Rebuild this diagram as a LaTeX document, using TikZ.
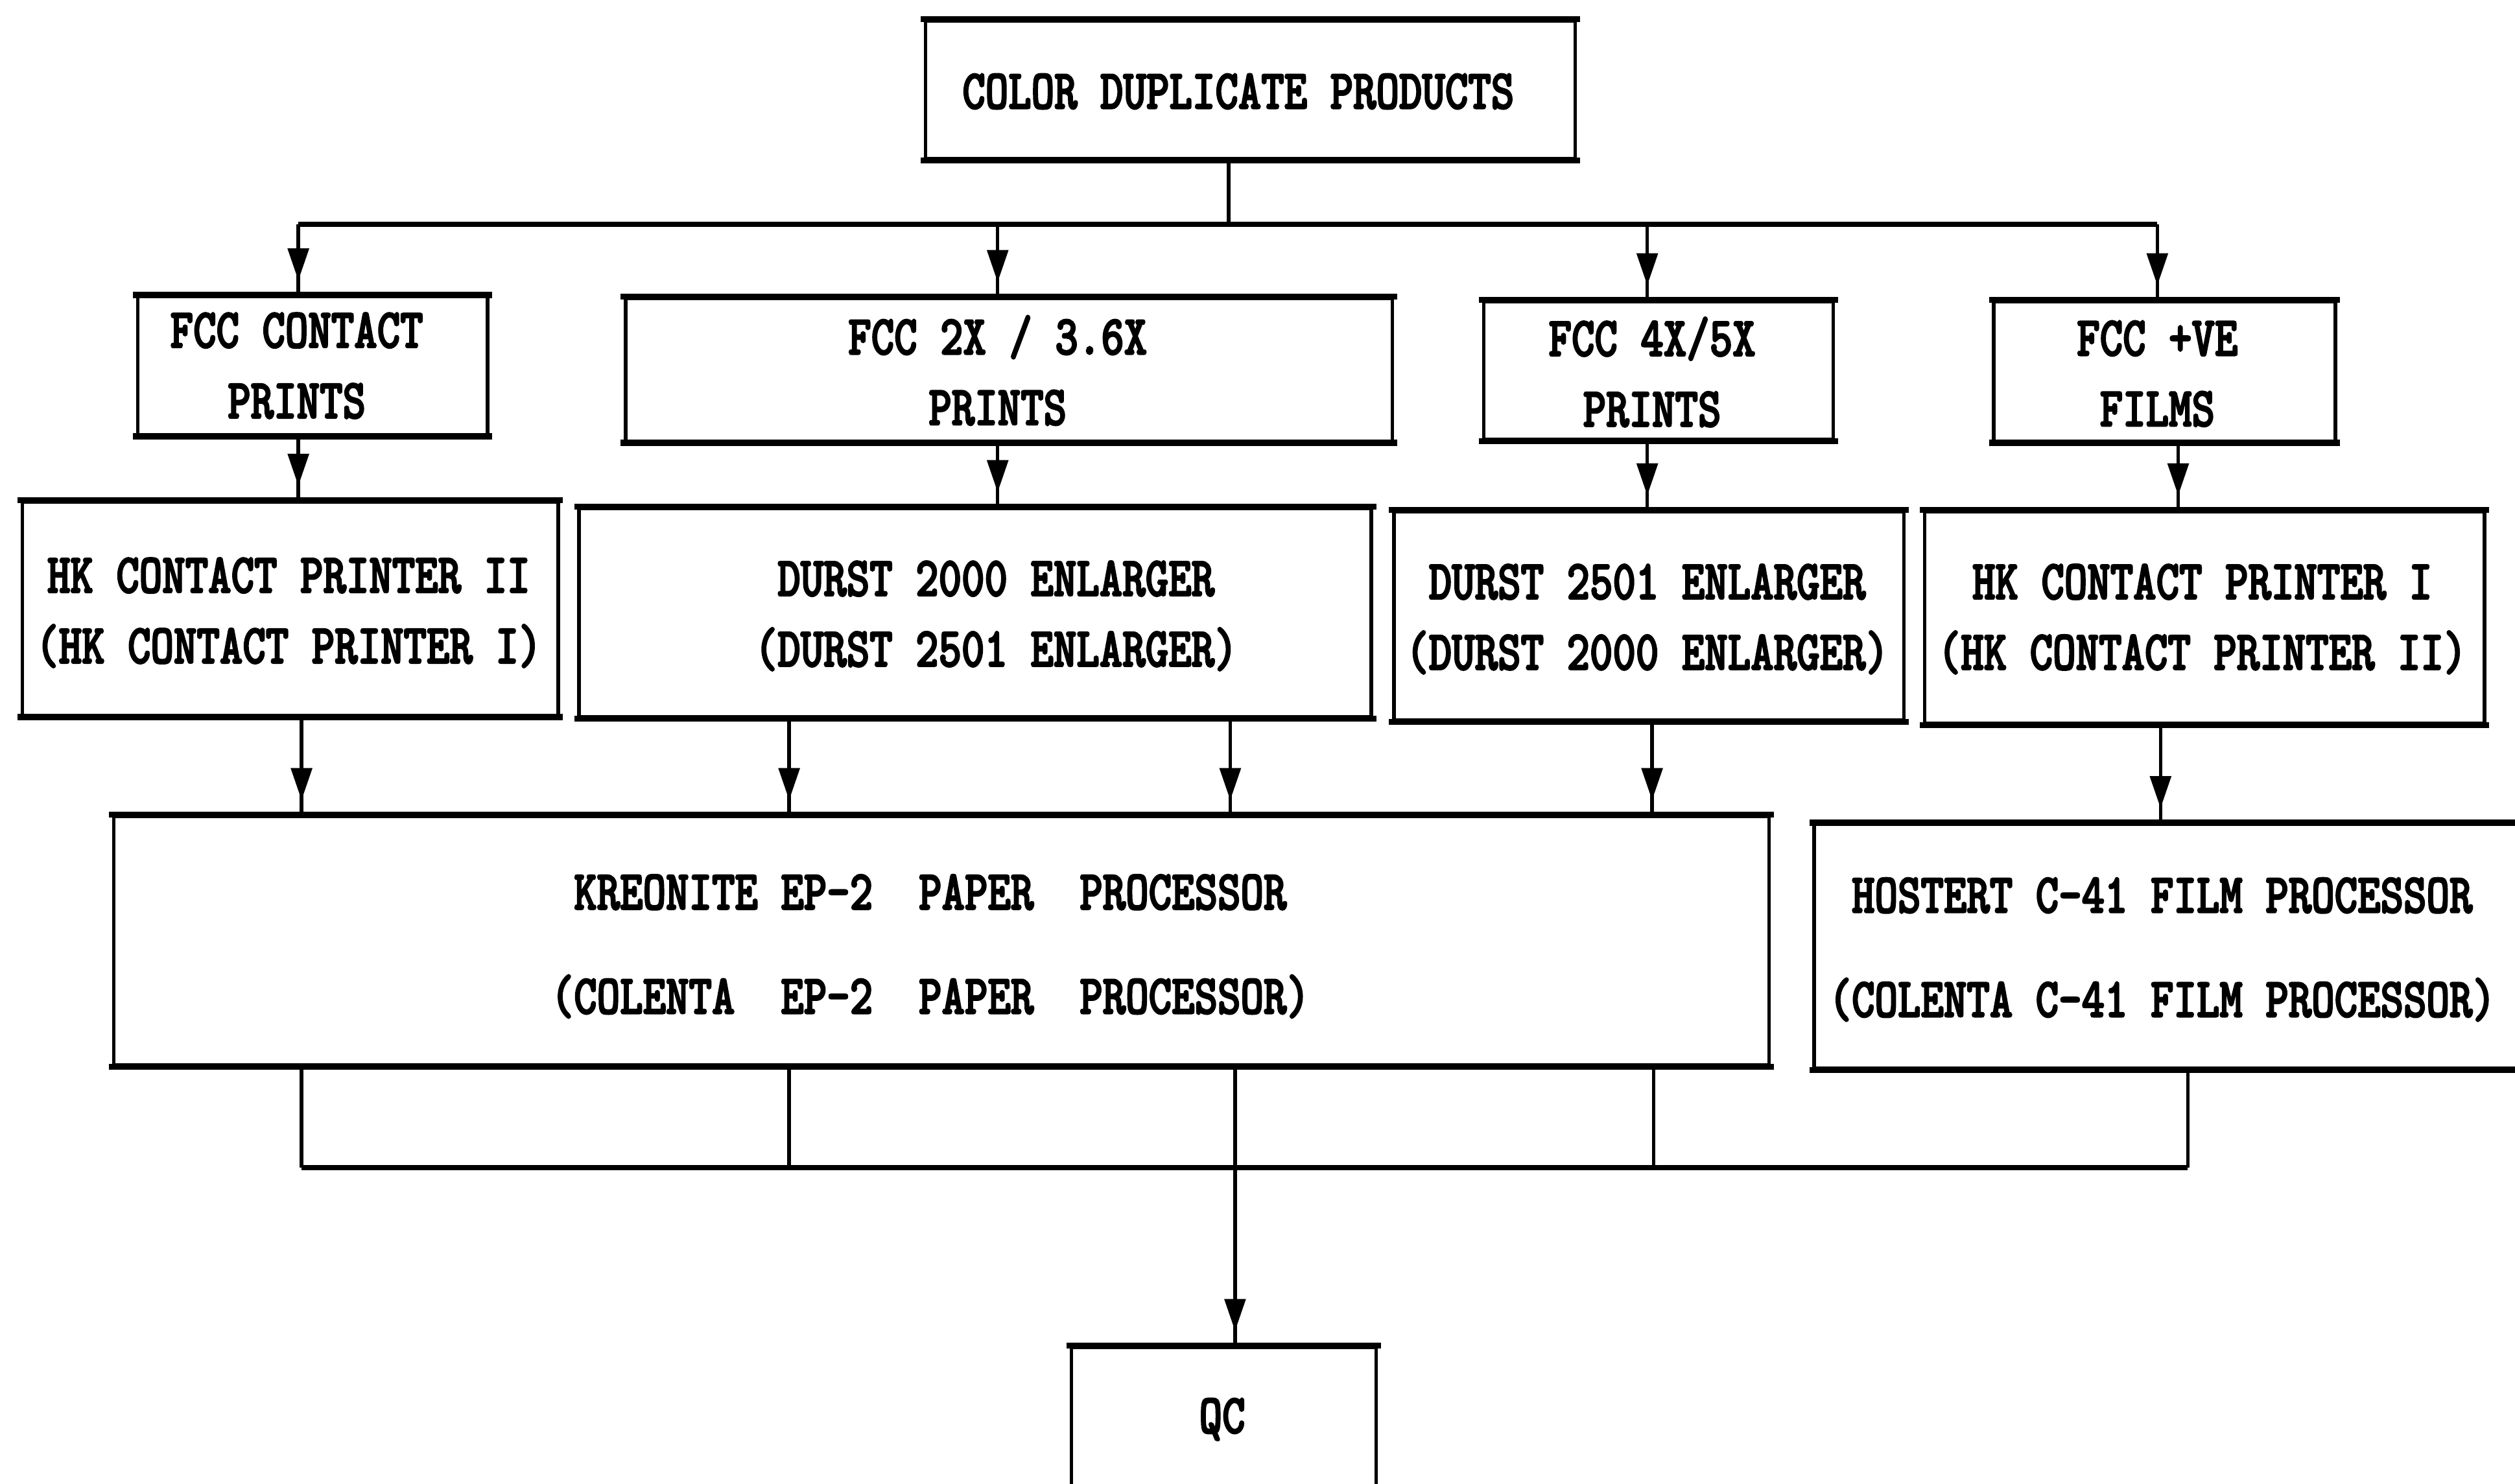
\documentclass[tikz,border=0pt]{standalone}
\usepackage{fontspec}
\newfontfamily\dmfont[FakeStretch=0.78,FakeBold=2.5]{lmmonolt10-bold.otf}
\usetikzlibrary{arrows.meta,decorations.markings,fit,calc}
\begin{document}
\begin{tikzpicture}[x=0.5pt,y=-0.5pt,
  box/.style={draw,line width=1.1pt,inner sep=0pt},
  txt/.style={inner sep=0pt,align=center,font=\dmfont\fontsize{17.5}{22}\selectfont},
  edgeline/.style={line width=1.9pt,line cap=rect},
  conn/.style={line width=1.1pt},
  bus/.style={line width=1.6pt},
  flow/.style={conn,postaction={decorate},
    decoration={markings,mark=at position -4.5pt with {\arrow{Triangle[length=10pt,width=6.5pt]}}}}
]
\useasboundingbox (0,0) rectangle (1568,925);
\clip (0,0) rectangle (1568,925);

% boxes
\node[box,fit={(577,13) (982,99)}] (CDP) {};
\node[box,fit={(86,185) (304,271)}] (P1) {};
\node[box,fit={(390,186) (868,275)}] (P2) {};
\node[box,fit={(925,188) (1143,274)}] (P3) {};
\node[box,fit={(1243,188) (1456,275)}] (P4) {};
\node[box,fit={(14,313) (348,446)}] (M1) {};
\node[box,fit={(361,317) (855,447)}] (M2) {};
\node[box,fit={(869,319) (1187,449)}] (M3) {};
\node[box,fit={(1200,319) (1549,451)}] (M4) {};
\node[box,fit={(71,509) (1103,664)}] (K) {};
\node[box,fit={(1131,514) (1585,666)}] (L) {};
\node[box,fit={(668,840) (858,928)}] (QC) {};

% thicker top and bottom borders
\foreach \n in {CDP,P1,P2,P3,P4,M1,M2,M3,M4,K,L,QC}{
  \draw[edgeline] (\n.north west) -- (\n.north east);
  \draw[edgeline] (\n.south west) -- (\n.south east);
}

% texts
\node[txt] (CDPt) at (772,57) {COLOR DUPLICATE PRODUCTS};
\node[txt] (P1t) at (185,228) {FCC CONTACT\\PRINTS};
\node[txt] (P2t) at (622,231) {FCC 2X / 3.6X\\PRINTS};
\node[txt] (P3t) at (1030,232) {FCC 4X/5X\\PRINTS};
\node[txt] (P4t) at (1345,233) {FCC +VE\\FILMS};
\node[txt] (M1t) at (180,382) {HK CONTACT PRINTER II\\(HK CONTACT PRINTER I)};
\node[txt] (M2t) at (621,384) {DURST 2000 ENLARGER\\(DURST 2501 ENLARGER)};
\node[txt] (M3t) at (1027,386) {DURST 2501 ENLARGER\\(DURST 2000 ENLARGER)};
\node[txt] (M4t) at (1373,386) {HK CONTACT PRINTER I\\(HK CONTACT PRINTER II)};
\node[txt] (Kt) at (580,590) {KREONITE EP-2~~PAPER~~PROCESSOR\\[10.5pt](COLENTA~~EP-2~~PAPER~~PROCESSOR)};
\node[txt] (Lt) at (1348,592) {HOSTERT C-41 FILM PROCESSOR\\[10.5pt](COLENTA C-41 FILM PROCESSOR)};
\node[txt] (QCt) at (762,885) {QC};

% junction coordinates
\coordinate (b0) at (766,140);
\coordinate (b1) at (186,140);
\coordinate (b2) at (622,140);
\coordinate (b3) at (1027,140);
\coordinate (b4) at (1345,140);
\coordinate (c4) at (1358,300);
\coordinate (d1) at (188,480);
\coordinate (d2) at (492,480);
\coordinate (d3) at (767,480);
\coordinate (d4) at (1030,480);
\coordinate (d5) at (1347,480);
\coordinate (e1) at (188,728);
\coordinate (e2) at (492,728);
\coordinate (e3) at (770,728);
\coordinate (e4) at (1031,728);
\coordinate (e5) at (1364,728);

% top distribution
\draw[conn] (CDP.south -| b0) -- (b0);
\draw[bus] (b1) -- (b4);
\draw[flow] (b1) -- (P1.north -| b1);
\draw[flow] (b2) -- (P2.north -| b2);
\draw[flow] (b3) -- (P3.north -| b3);
\draw[flow] (b4) -- (P4.north -| b4);

% row 2 -> row 3
\draw[flow] (P1.south -| b1) -- (M1.north -| b1);
\draw[flow] (P2.south -| b2) -- (M2.north -| b2);
\draw[flow] (P3.south -| b3) -- (M3.north -| b3);
\draw[flow] (P4.south -| c4) -- (M4.north -| c4);

% row 3 -> row 4
\draw[flow] (M1.south -| d1) -- (K.north -| d1);
\draw[flow] (M2.south -| d2) -- (K.north -| d2);
\draw[flow] (M2.south -| d3) -- (K.north -| d3);
\draw[flow] (M3.south -| d4) -- (K.north -| d4);
\draw[flow] (M4.south -| d5) -- (L.north -| d5);

% collection to QC
\draw[conn] (K.south -| e1) -- (e1);
\draw[conn] (K.south -| e2) -- (e2);
\draw[conn] (K.south -| e4) -- (e4);
\draw[conn] (L.south -| e5) -- (e5);
\draw[bus] (e1) -- (e5);
\draw[flow] (K.south -| e3) -- (QC.north -| e3);
\end{tikzpicture}
\end{document}
